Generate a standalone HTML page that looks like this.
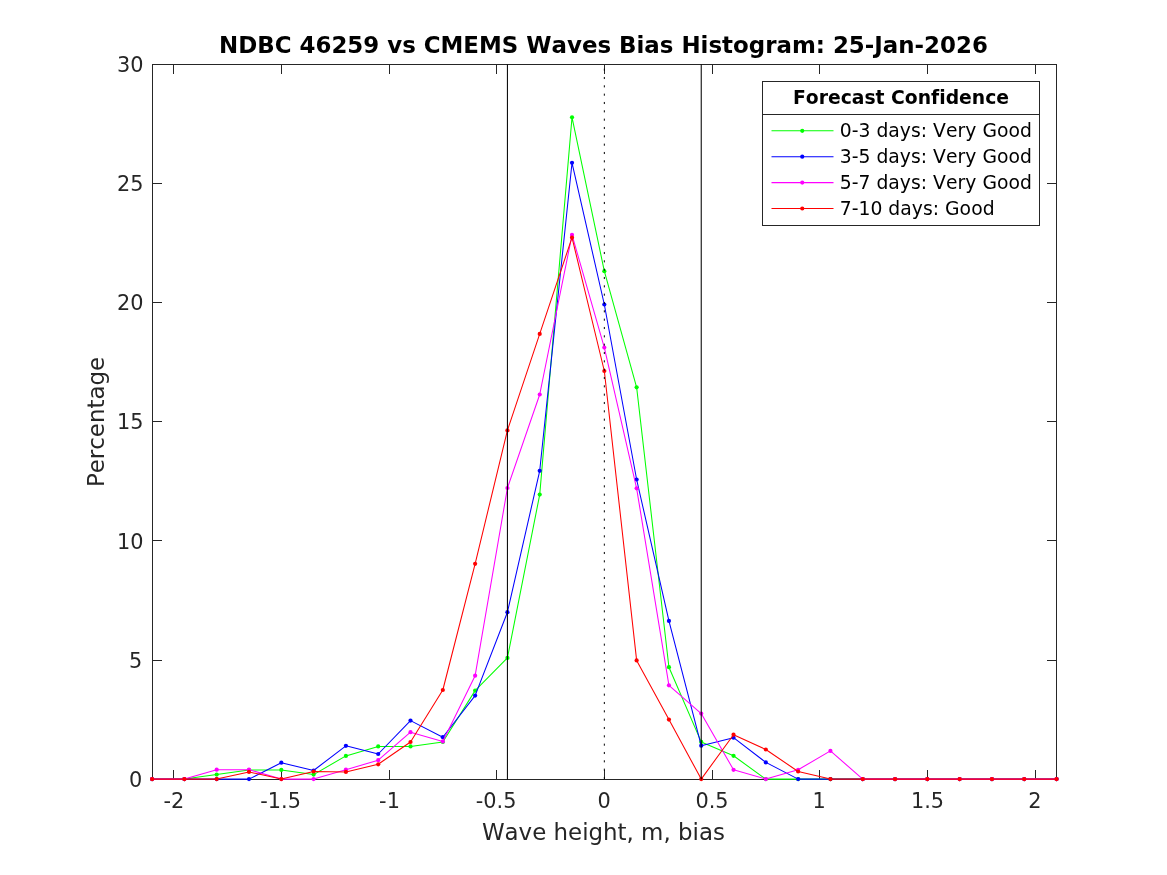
<!DOCTYPE html>
<html lang="en"><head><meta charset="utf-8"><title>NDBC 46259 vs CMEMS Waves Bias Histogram</title>
<style>html,body{margin:0;padding:0;background:#fff;overflow:hidden}body{width:1167px;height:875px}svg{display:block}text{font-family:"DejaVu Sans","Liberation Sans",sans-serif;font-variant-ligatures:none;font-kerning:none}</style></head><body>
<svg role="img" aria-label="NDBC 46259 vs CMEMS Waves Bias Histogram" width="1167" height="875" viewBox="0 0 1167 875">
<rect x="0" y="0" width="1167" height="875" fill="#ffffff"/>
<g stroke="#262626" stroke-width="1.00" fill="none" shape-rendering="auto">
<rect x="152.50" y="64.50" width="904.00" height="715.00"/>
<line x1="173.50" y1="780.00" x2="173.50" y2="770.00"/>
<line x1="173.50" y1="64.00" x2="173.50" y2="74.00"/>
<line x1="281.50" y1="780.00" x2="281.50" y2="770.00"/>
<line x1="281.50" y1="64.00" x2="281.50" y2="74.00"/>
<line x1="389.50" y1="780.00" x2="389.50" y2="770.00"/>
<line x1="389.50" y1="64.00" x2="389.50" y2="74.00"/>
<line x1="496.50" y1="780.00" x2="496.50" y2="770.00"/>
<line x1="496.50" y1="64.00" x2="496.50" y2="74.00"/>
<line x1="604.50" y1="780.00" x2="604.50" y2="770.00"/>
<line x1="604.50" y1="64.00" x2="604.50" y2="74.00"/>
<line x1="712.50" y1="780.00" x2="712.50" y2="770.00"/>
<line x1="712.50" y1="64.00" x2="712.50" y2="74.00"/>
<line x1="819.50" y1="780.00" x2="819.50" y2="770.00"/>
<line x1="819.50" y1="64.00" x2="819.50" y2="74.00"/>
<line x1="927.50" y1="780.00" x2="927.50" y2="770.00"/>
<line x1="927.50" y1="64.00" x2="927.50" y2="74.00"/>
<line x1="1035.50" y1="780.00" x2="1035.50" y2="770.00"/>
<line x1="1035.50" y1="64.00" x2="1035.50" y2="74.00"/>
<line x1="152.00" y1="779.50" x2="162.00" y2="779.50"/>
<line x1="1057.00" y1="779.50" x2="1047.00" y2="779.50"/>
<line x1="152.00" y1="660.50" x2="162.00" y2="660.50"/>
<line x1="1057.00" y1="660.50" x2="1047.00" y2="660.50"/>
<line x1="152.00" y1="540.50" x2="162.00" y2="540.50"/>
<line x1="1057.00" y1="540.50" x2="1047.00" y2="540.50"/>
<line x1="152.00" y1="421.50" x2="162.00" y2="421.50"/>
<line x1="1057.00" y1="421.50" x2="1047.00" y2="421.50"/>
<line x1="152.00" y1="302.50" x2="162.00" y2="302.50"/>
<line x1="1057.00" y1="302.50" x2="1047.00" y2="302.50"/>
<line x1="152.00" y1="183.50" x2="162.00" y2="183.50"/>
<line x1="1057.00" y1="183.50" x2="1047.00" y2="183.50"/>
<line x1="152.00" y1="64.50" x2="162.00" y2="64.50"/>
<line x1="1057.00" y1="64.50" x2="1047.00" y2="64.50"/>
</g>
<g fill="#262626" font-size="20.83px">
<text x="173.80" y="807.60" text-anchor="middle">-2</text>
<text x="280.60" y="807.60" text-anchor="middle">-1.5</text>
<text x="389.50" y="807.60" text-anchor="middle">-1</text>
<text x="496.10" y="807.60" text-anchor="middle">-0.5</text>
<text x="604.10" y="807.60" text-anchor="middle">0</text>
<text x="712.00" y="807.60" text-anchor="middle">0.5</text>
<text x="819.10" y="807.60" text-anchor="middle">1</text>
<text x="927.50" y="807.60" text-anchor="middle">1.5</text>
<text x="1035.00" y="807.60" text-anchor="middle">2</text>
<text x="142.25" y="786.55" text-anchor="end">0</text>
<text x="142.25" y="667.90" text-anchor="end">5</text>
<text x="143.50" y="548.50" text-anchor="end">10</text>
<text x="143.50" y="429.30" text-anchor="end">15</text>
<text x="143.50" y="310.30" text-anchor="end">20</text>
<text x="143.50" y="191.30" text-anchor="end">25</text>
<text x="143.50" y="72.30" text-anchor="end">30</text>
</g>
<text x="603.40" y="839.50" text-anchor="middle" font-size="22.92px" fill="#262626">Wave height, m, bias</text>
<text transform="translate(104.00,422.00) rotate(-90)" text-anchor="middle" font-size="22.92px" fill="#262626">Percentage</text>
<text x="603.50" y="53.20" text-anchor="middle" font-size="22.92px" font-weight="bold" fill="#000">NDBC 46259 vs CMEMS Waves Bias Histogram: 25-Jan-2026</text>
<polyline fill="none" stroke="#00ff00" stroke-width="1.05" stroke-linejoin="round" points="152.10,779.10 184.40,779.10 216.70,774.60 249.01,770.10 281.31,769.90 313.61,774.60 345.91,755.90 378.21,746.40 410.51,746.40 442.82,742.00 475.12,690.60 507.42,657.90 539.72,494.60 572.02,117.30 604.33,271.20 636.63,387.30 668.93,667.20 701.23,741.90 733.53,755.80 765.83,779.10 798.14,779.10 830.44,779.10 862.74,779.10 895.04,779.10 927.34,779.10 959.64,779.10 991.95,779.10 1024.25,779.10 1056.55,779.10"/>
<g fill="#00ff00"><circle cx="152.10" cy="779.10" r="2.1"/><circle cx="184.40" cy="779.10" r="2.1"/><circle cx="216.70" cy="774.60" r="2.1"/><circle cx="249.01" cy="770.10" r="2.1"/><circle cx="281.31" cy="769.90" r="2.1"/><circle cx="313.61" cy="774.60" r="2.1"/><circle cx="345.91" cy="755.90" r="2.1"/><circle cx="378.21" cy="746.40" r="2.1"/><circle cx="410.51" cy="746.40" r="2.1"/><circle cx="442.82" cy="742.00" r="2.1"/><circle cx="475.12" cy="690.60" r="2.1"/><circle cx="507.42" cy="657.90" r="2.1"/><circle cx="539.72" cy="494.60" r="2.1"/><circle cx="572.02" cy="117.30" r="2.1"/><circle cx="604.33" cy="271.20" r="2.1"/><circle cx="636.63" cy="387.30" r="2.1"/><circle cx="668.93" cy="667.20" r="2.1"/><circle cx="701.23" cy="741.90" r="2.1"/><circle cx="733.53" cy="755.80" r="2.1"/><circle cx="765.83" cy="779.10" r="2.1"/><circle cx="798.14" cy="779.10" r="2.1"/><circle cx="830.44" cy="779.10" r="2.1"/><circle cx="862.74" cy="779.10" r="2.1"/><circle cx="895.04" cy="779.10" r="2.1"/><circle cx="927.34" cy="779.10" r="2.1"/><circle cx="959.64" cy="779.10" r="2.1"/><circle cx="991.95" cy="779.10" r="2.1"/><circle cx="1024.25" cy="779.10" r="2.1"/><circle cx="1056.55" cy="779.10" r="2.1"/></g>
<polyline fill="none" stroke="#0000ff" stroke-width="1.05" stroke-linejoin="round" points="152.10,779.10 184.40,779.10 216.70,779.10 249.01,779.10 281.31,762.70 313.61,770.50 345.91,745.80 378.21,754.00 410.51,720.60 442.82,737.20 475.12,695.60 507.42,612.20 539.72,470.80 572.02,162.80 604.33,304.50 636.63,479.50 668.93,620.90 701.23,745.70 733.53,737.70 765.83,762.40 798.14,779.10 830.44,779.10 862.74,779.10 895.04,779.10 927.34,779.10 959.64,779.10 991.95,779.10 1024.25,779.10 1056.55,779.10"/>
<g fill="#0000ff"><circle cx="152.10" cy="779.10" r="2.1"/><circle cx="184.40" cy="779.10" r="2.1"/><circle cx="216.70" cy="779.10" r="2.1"/><circle cx="249.01" cy="779.10" r="2.1"/><circle cx="281.31" cy="762.70" r="2.1"/><circle cx="313.61" cy="770.50" r="2.1"/><circle cx="345.91" cy="745.80" r="2.1"/><circle cx="378.21" cy="754.00" r="2.1"/><circle cx="410.51" cy="720.60" r="2.1"/><circle cx="442.82" cy="737.20" r="2.1"/><circle cx="475.12" cy="695.60" r="2.1"/><circle cx="507.42" cy="612.20" r="2.1"/><circle cx="539.72" cy="470.80" r="2.1"/><circle cx="572.02" cy="162.80" r="2.1"/><circle cx="604.33" cy="304.50" r="2.1"/><circle cx="636.63" cy="479.50" r="2.1"/><circle cx="668.93" cy="620.90" r="2.1"/><circle cx="701.23" cy="745.70" r="2.1"/><circle cx="733.53" cy="737.70" r="2.1"/><circle cx="765.83" cy="762.40" r="2.1"/><circle cx="798.14" cy="779.10" r="2.1"/><circle cx="830.44" cy="779.10" r="2.1"/><circle cx="862.74" cy="779.10" r="2.1"/><circle cx="895.04" cy="779.10" r="2.1"/><circle cx="927.34" cy="779.10" r="2.1"/><circle cx="959.64" cy="779.10" r="2.1"/><circle cx="991.95" cy="779.10" r="2.1"/><circle cx="1024.25" cy="779.10" r="2.1"/><circle cx="1056.55" cy="779.10" r="2.1"/></g>
<polyline fill="none" stroke="#ff00ff" stroke-width="1.05" stroke-linejoin="round" points="152.10,779.10 184.40,779.10 216.70,769.70 249.01,769.70 281.31,779.10 313.61,779.10 345.91,769.70 378.21,760.20 410.51,732.20 442.82,741.40 475.12,675.70 507.42,488.00 539.72,394.50 572.02,234.90 604.33,347.60 636.63,488.30 668.93,685.30 701.23,713.60 733.53,769.80 765.83,779.10 798.14,769.80 830.44,750.90 862.74,779.10 895.04,779.10 927.34,779.10 959.64,779.10 991.95,779.10 1024.25,779.10 1056.55,779.10"/>
<g fill="#ff00ff"><circle cx="152.10" cy="779.10" r="2.1"/><circle cx="184.40" cy="779.10" r="2.1"/><circle cx="216.70" cy="769.70" r="2.1"/><circle cx="249.01" cy="769.70" r="2.1"/><circle cx="281.31" cy="779.10" r="2.1"/><circle cx="313.61" cy="779.10" r="2.1"/><circle cx="345.91" cy="769.70" r="2.1"/><circle cx="378.21" cy="760.20" r="2.1"/><circle cx="410.51" cy="732.20" r="2.1"/><circle cx="442.82" cy="741.40" r="2.1"/><circle cx="475.12" cy="675.70" r="2.1"/><circle cx="507.42" cy="488.00" r="2.1"/><circle cx="539.72" cy="394.50" r="2.1"/><circle cx="572.02" cy="234.90" r="2.1"/><circle cx="604.33" cy="347.60" r="2.1"/><circle cx="636.63" cy="488.30" r="2.1"/><circle cx="668.93" cy="685.30" r="2.1"/><circle cx="701.23" cy="713.60" r="2.1"/><circle cx="733.53" cy="769.80" r="2.1"/><circle cx="765.83" cy="779.10" r="2.1"/><circle cx="798.14" cy="769.80" r="2.1"/><circle cx="830.44" cy="750.90" r="2.1"/><circle cx="862.74" cy="779.10" r="2.1"/><circle cx="895.04" cy="779.10" r="2.1"/><circle cx="927.34" cy="779.10" r="2.1"/><circle cx="959.64" cy="779.10" r="2.1"/><circle cx="991.95" cy="779.10" r="2.1"/><circle cx="1024.25" cy="779.10" r="2.1"/><circle cx="1056.55" cy="779.10" r="2.1"/></g>
<polyline fill="none" stroke="#ff0000" stroke-width="1.05" stroke-linejoin="round" points="152.10,779.10 184.40,779.10 216.70,779.10 249.01,771.90 281.31,779.10 313.61,771.50 345.91,771.90 378.21,764.30 410.51,742.00 442.82,690.00 475.12,563.80 507.42,430.40 539.72,333.90 572.02,237.60 604.33,371.00 636.63,660.40 668.93,719.60 701.23,779.10 733.53,734.70 765.83,749.50 798.14,771.50 830.44,779.10 862.74,779.10 895.04,779.10 927.34,779.10 959.64,779.10 991.95,779.10 1024.25,779.10 1056.55,779.10"/>
<g fill="#ff0000"><circle cx="152.10" cy="779.10" r="2.1"/><circle cx="184.40" cy="779.10" r="2.1"/><circle cx="216.70" cy="779.10" r="2.1"/><circle cx="249.01" cy="771.90" r="2.1"/><circle cx="281.31" cy="779.10" r="2.1"/><circle cx="313.61" cy="771.50" r="2.1"/><circle cx="345.91" cy="771.90" r="2.1"/><circle cx="378.21" cy="764.30" r="2.1"/><circle cx="410.51" cy="742.00" r="2.1"/><circle cx="442.82" cy="690.00" r="2.1"/><circle cx="475.12" cy="563.80" r="2.1"/><circle cx="507.42" cy="430.40" r="2.1"/><circle cx="539.72" cy="333.90" r="2.1"/><circle cx="572.02" cy="237.60" r="2.1"/><circle cx="604.33" cy="371.00" r="2.1"/><circle cx="636.63" cy="660.40" r="2.1"/><circle cx="668.93" cy="719.60" r="2.1"/><circle cx="701.23" cy="779.10" r="2.1"/><circle cx="733.53" cy="734.70" r="2.1"/><circle cx="765.83" cy="749.50" r="2.1"/><circle cx="798.14" cy="771.50" r="2.1"/><circle cx="830.44" cy="779.10" r="2.1"/><circle cx="862.74" cy="779.10" r="2.1"/><circle cx="895.04" cy="779.10" r="2.1"/><circle cx="927.34" cy="779.10" r="2.1"/><circle cx="959.64" cy="779.10" r="2.1"/><circle cx="991.95" cy="779.10" r="2.1"/><circle cx="1024.25" cy="779.10" r="2.1"/><circle cx="1056.55" cy="779.10" r="2.1"/></g>
<line x1="507.42" y1="64.50" x2="507.42" y2="779.50" stroke="#000" stroke-width="1.04"/>
<line x1="701.23" y1="64.50" x2="701.23" y2="779.50" stroke="#000" stroke-width="1.04"/>
<line x1="604.33" y1="779.04" x2="604.33" y2="64.00" stroke="#000" stroke-width="1.00" stroke-dasharray="2.08 6.2533"/>
<rect x="762.50" y="81.50" width="277.00" height="144.00" fill="#fff" stroke="#262626" stroke-width="1.00"/>
<line x1="762.50" y1="114.50" x2="1039.50" y2="114.50" stroke="#262626" stroke-width="1.00"/>
<text x="901.00" y="104.30" text-anchor="middle" font-size="18.75px" font-weight="bold" fill="#000">Forecast Confidence</text>
<line x1="771.5" y1="130.80" x2="833.5" y2="130.80" stroke="#00ff00" stroke-width="1.05"/>
<circle cx="802.25" cy="130.80" r="2.1" fill="#00ff00"/>
<text x="839.7" y="137.45" font-size="18.75px" letter-spacing="0.03" fill="#000">0-3 days: Very Good</text>
<line x1="771.5" y1="156.70" x2="833.5" y2="156.70" stroke="#0000ff" stroke-width="1.05"/>
<circle cx="802.25" cy="156.70" r="2.1" fill="#0000ff"/>
<text x="839.7" y="163.35" font-size="18.75px" letter-spacing="0.03" fill="#000">3-5 days: Very Good</text>
<line x1="771.5" y1="182.60" x2="833.5" y2="182.60" stroke="#ff00ff" stroke-width="1.05"/>
<circle cx="802.25" cy="182.60" r="2.1" fill="#ff00ff"/>
<text x="839.7" y="189.25" font-size="18.75px" letter-spacing="0.03" fill="#000">5-7 days: Very Good</text>
<line x1="771.5" y1="208.50" x2="833.5" y2="208.50" stroke="#ff0000" stroke-width="1.05"/>
<circle cx="802.25" cy="208.50" r="2.1" fill="#ff0000"/>
<text x="839.7" y="215.15" font-size="18.75px" letter-spacing="0.03" fill="#000">7-10 days: Good</text>
</svg></body></html>
